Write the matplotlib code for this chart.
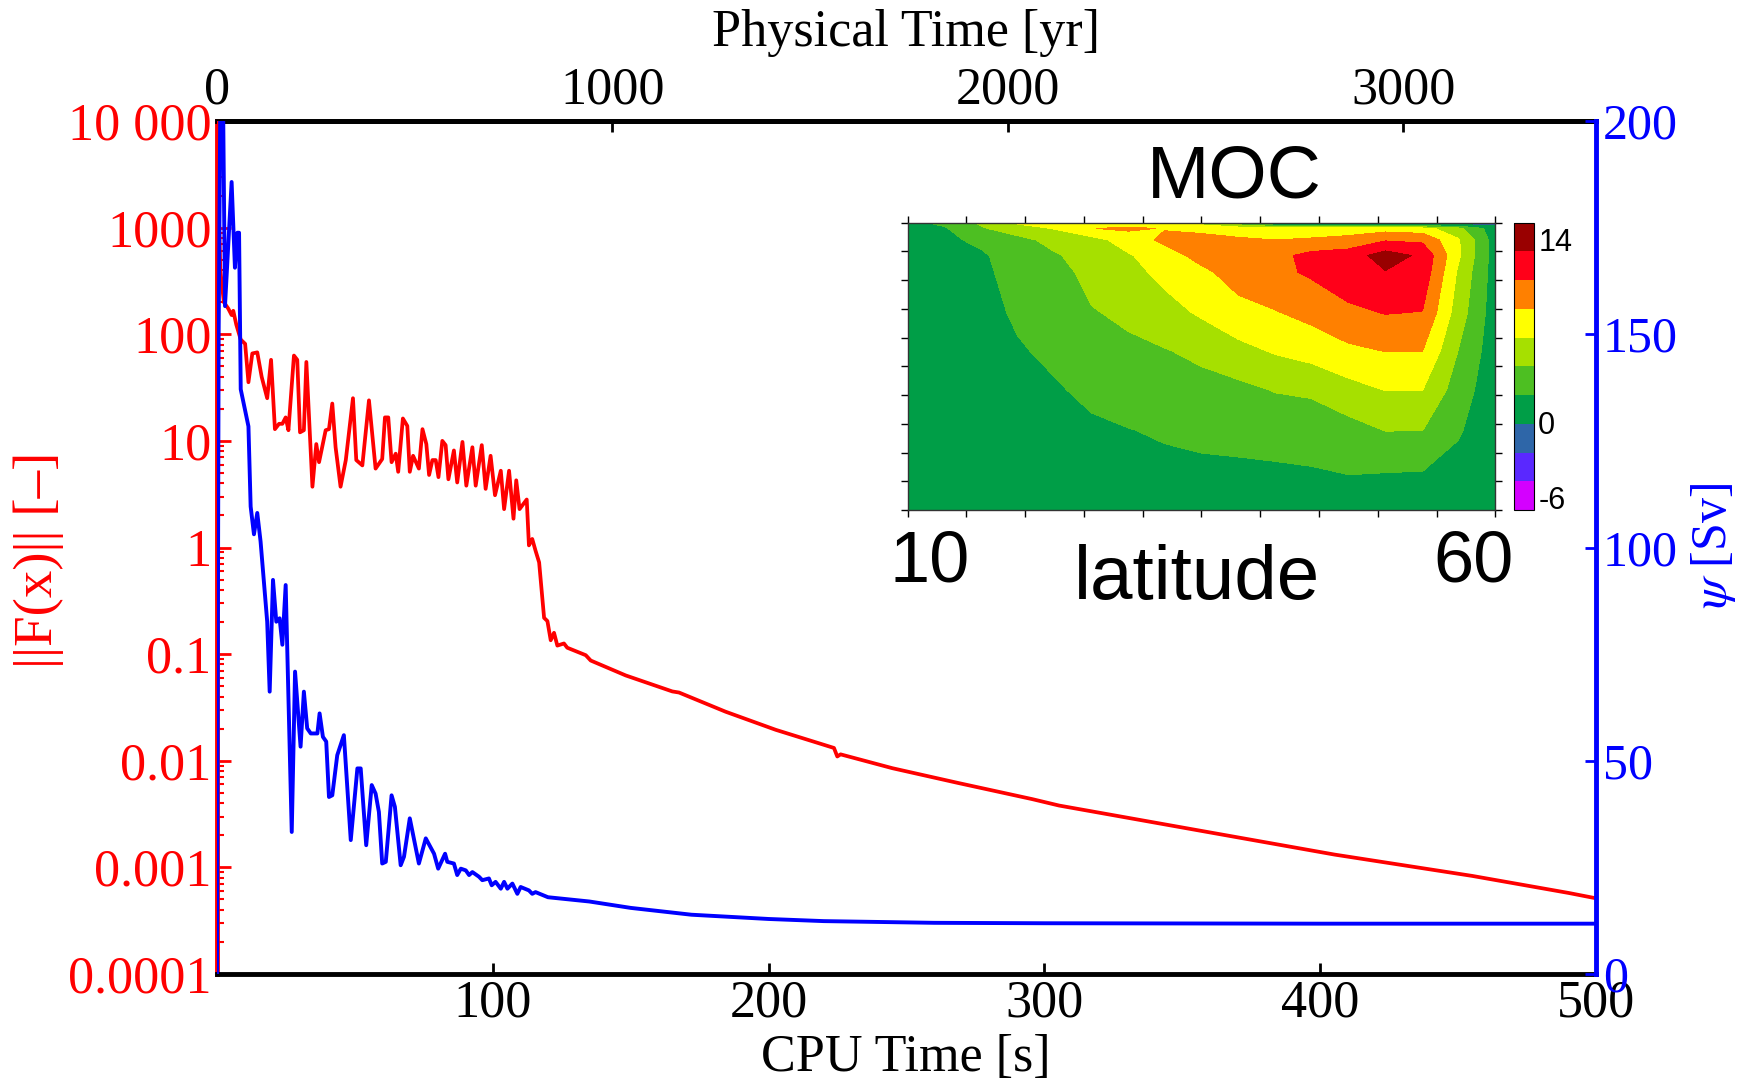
import numpy as np
import matplotlib
matplotlib.use("Agg")
import matplotlib.pyplot as plt
from matplotlib.ticker import LogLocator, NullFormatter

plt.rcParams['font.family'] = ['Liberation Serif', 'DejaVu Serif']
plt.rcParams['mathtext.fontset'] = 'stix'

# ---------------- data ----------------
# residual norm ||F(x)|| (log10 of value) vs CPU time [s]
red_t = [0, 0.5, 1.2, 2.5, 4.1, 5.3, 5.9, 7.0, 8.6, 10.2, 11.4, 12.8, 14.6, 16.2, 18.2, 19.6,
         21.0, 22.5, 23.7, 24.9, 25.9, 27.9, 29.1, 30.1, 31.5, 32.4, 34.6, 36.0, 37.0, 39.4,
         40.6, 41.8, 43.0, 44.8, 46.7, 49.3, 50.5, 52.7, 55.1, 57.5, 59.9, 60.9, 62.1, 63.3,
         64.8, 65.7, 67.4, 69.0, 69.9, 71.1, 73.2, 74.5, 75.9, 76.9, 78.1, 79.3, 80.3, 81.7,
         82.9, 83.9, 85.9, 87.1, 89.0, 90.4, 92.6, 93.8, 96.0, 97.4, 99.2, 100.8, 102.9, 104.1,
         105.9, 107.5, 108.5, 109.7, 112.3, 113.1, 114.3, 115.5, 116.8, 118.6, 119.8, 121.0,
         122.2, 123.4, 125.8, 127.0, 133.7, 135.5, 148.2, 165.1, 167.5, 184.4, 202.6, 223.7,
         224.9, 226.1, 244.9, 269.0, 295.6, 305.3, 355.2, 405.2, 455.1, 490.1, 500]
red_log10 = [4.0, 3.3, 2.6, 2.30, 2.24, 2.18, 2.22, 2.09, 1.95, 1.91, 1.55, 1.82, 1.83, 1.60, 1.40, 1.76,
             1.11, 1.16, 1.16, 1.22, 1.10, 1.80, 1.76, 1.08, 1.10, 1.74, 0.57, 0.97, 0.80, 1.10,
             1.11, 1.35, 0.94, 0.57, 0.82, 1.40, 0.82, 0.77, 1.38, 0.74, 0.83, 1.22, 1.22, 0.80,
             0.88, 0.71, 1.21, 1.14, 0.71, 0.86, 0.74, 1.11, 0.97, 0.68, 0.82, 0.82, 0.66, 1.00,
             0.96, 0.64, 0.91, 0.61, 0.99, 0.58, 0.94, 0.58, 0.96, 0.55, 0.86, 0.49, 0.72, 0.36,
             0.72, 0.27, 0.63, 0.36, 0.45, 0.02, 0.08, -0.03, -0.14, -0.66, -0.69, -0.87,
             -0.80, -0.92, -0.90, -0.94, -1.01, -1.06, -1.20, -1.35, -1.36, -1.54, -1.71, -1.88,
             -1.96, -1.94, -2.07, -2.21, -2.36, -2.42, -2.65, -2.88, -3.08, -3.24, -3.29]

# overturning strength psi [Sv] vs CPU time [s]
blue_t = [0, 0.6, 1.2, 2.2, 2.9, 5.3, 6.5, 7.4, 8.0, 8.6, 11.4, 12.2, 13.4, 14.6, 15.8, 18.2, 19.1,
          20.3, 21.5, 22.7, 23.7, 24.9, 27.1, 28.3, 30.3, 31.5, 32.7, 34.0, 36.4, 37.2, 38.4,
          39.6, 40.6, 41.8, 43.6, 46.0, 48.5, 50.9, 52.1, 54.1, 56.1, 57.5, 58.7, 59.9, 61.2,
          63.3, 64.5, 66.6, 67.8, 69.9, 73.2, 75.7, 78.7, 80.2, 82.7, 83.5, 85.9, 87.1, 88.4,
          90.2, 91.4, 92.6, 95.0, 96.2, 98.6, 99.6, 101.0, 102.9, 104.1, 105.3, 107.1, 108.9,
          110.1, 113.1, 114.3, 115.5, 120, 135, 150, 172, 200, 220, 260, 300, 400, 500]
blue_psi = [0, 150, 205, 205, 156.6, 185.7, 165.6, 173.8, 173.8, 137.1, 128.4, 109.6, 103.1, 108.1,
            101.4, 82.6, 66.2, 92.4, 82.6, 83.4, 77.2, 91.2, 33.3, 70.9, 53.3, 66.2, 57.6, 56.4,
            56.4, 61.1, 55.6, 54.5, 41.5, 41.9, 51.3, 56.0, 31.4, 48.2, 48.2, 30.2, 44.3, 42.3,
            38.0, 25.9, 26.3, 41.9, 39.2, 25.5, 27.5, 36.5, 25.9, 31.8, 28.2, 24.7, 28.2, 26.3,
            25.9, 23.2, 24.7, 24.3, 23.2, 23.9, 22.8, 22.0, 22.4, 20.8, 21.6, 20.0, 21.6, 20.0,
            21.2, 18.8, 20.4, 19.6, 18.8, 19.2, 18.0, 17.0, 15.5, 13.9, 12.9, 12.4, 12.0, 11.9,
            11.8, 11.8]

cpu_ticks = [100, 200, 300, 400, 500]
cpu_labels = ['100', '200', '300', '400', '500']
norm_ticks = [1e-4, 1e-3, 1e-2, 1e-1, 1, 10, 100, 1000, 1e4]
norm_labels = ['0.0001', '0.001', '0.01', '0.1', '1', '10', '100', '1000', '10 000']
psi_ticks = [0, 50, 100, 150, 200]
psi_labels = ['0', '50', '100', '150', '200']
year_ticks = [0, 1000, 2000, 3000]
year_labels = ['0', '1000', '2000', '3000']
years_at_500s = 3487.0

# MOC inset field (rows: depth, columns: latitude)
moc_lat = [8.0, 11.4, 14.8, 18.1, 21.5, 24.9, 28.3, 31.6, 35.0, 38.4, 41.8, 45.1, 48.5, 51.9,
           55.3, 58.6, 62.0]
moc_depth = [0.0, 0.1, 0.3, 0.57, 0.86, 1.56, 2.23, 2.91, 3.61, 4.31, 5.0]
moc_cols = [
    [1.5, 1.2, 1.0, 1.0, 1.0, 0.9, 0.8, 0.7, 0.6, 0.5, 0.4],
    [2.4, 1.8, 1.5, 1.3, 1.2, 1.0, 0.9, 0.8, 0.7, 0.6, 0.5],
    [4.3, 3.8, 2.5, 1.7, 1.5, 1.3, 1.1, 1.0, 0.8, 0.7, 0.5],
    [6.3, 5.0, 3.4, 3.1, 2.9, 2.3, 1.8, 1.4, 1.1, 0.9, 0.6],
    [7.0, 6.1, 4.6, 3.8, 3.4, 2.8, 2.4, 1.8, 1.4, 1.0, 0.7],
    [7.4, 7.95, 5.2, 4.8, 4.5, 3.9, 3.2, 2.4, 1.7, 1.3, 0.8],
    [7.0, 8.3, 7.0, 5.8, 5.3, 4.3, 3.7, 2.9, 1.95, 1.5, 0.9],
    [6.5, 7.9, 8.4, 7.2, 6.6, 5.2, 3.9, 3.1, 2.2, 1.6, 1.0],
    [5.0, 7.6, 8.5, 8.6, 7.6, 6.3, 4.4, 3.4, 2.4, 1.7, 1.0],
    [2.0, 7.3, 8.2, 9.0, 8.8, 7.4, 5.4, 3.5, 2.4, 1.8, 1.1],
    [-2.0, 7.1, 8.0, 9.4, 9.5, 7.9, 6.2, 4.1, 2.7, 1.8, 1.1],
    [-3.5, 7.0, 8.2, 10.6, 10.3, 8.6, 6.8, 4.3, 2.9, 1.9, 1.2],
    [-4.0, 7.0, 8.6, 11.0, 11.2, 9.6, 7.6, 5.3, 3.3, 2.1, 1.2],
    [-4.0, 7.2, 9.8, 12.9, 11.9, 10.1, 8.05, 6.05, 4.05, 2.05, 1.2],
    [-3.5, 6.8, 9.6, 11.6, 11.3, 9.95, 8.02, 6.02, 4.02, 2.02, 1.0],
    [-2.0, 4.5, 6.2, 6.3, 5.7, 5.0, 3.95, 3.0, 2.2, 1.4, 0.8],
    [-1.0, 0.8, 1.0, 1.0, 1.0, 0.9, 0.8, 0.7, 0.6, 0.5, 0.4],
]
moc_levels = [-6, -4, -2, 0, 2, 4, 6, 8, 10, 12, 14]
moc_colors = ['#D400FF', '#5A28FF', '#2E66A8', '#009E47', '#4DBF22', '#A6E000',
              '#FFFF00', '#FF8000', '#FF0019', '#990000']

# ---------------- figure ----------------
W, H = 1746, 1087
FS = 37.5
fig = plt.figure(figsize=(W / 100, H / 100), dpi=100)

L, R, T, B = 217, 1596, 121, 974
ax = fig.add_axes([L / W, 1 - B / H, (R - L) / W, (B - T) / H])
ax.plot(red_t, 10 ** np.array(red_log10), color='red', lw=2.7, zorder=3)
ax.set_xlim(0, 500)
ax.set_yscale('log')
ax.set_ylim(1e-4, 1e4)
ax.set_yticks(norm_ticks)
ax.set_yticklabels(norm_labels)
ax.yaxis.set_minor_locator(LogLocator(base=10, subs=range(2, 10), numticks=50))
ax.yaxis.set_minor_formatter(NullFormatter())
ax.tick_params(axis='y', which='major', direction='in', colors='red', length=10, width=2,
               labelsize=FS, pad=4)
ax.tick_params(axis='y', which='minor', direction='in', colors='red', length=5, width=1.5)
ax.set_xticks(cpu_ticks)
ax.set_xticklabels(cpu_labels)
ax.tick_params(axis='x', direction='in', length=8, width=2, labelsize=FS, pad=4, top=False)
ax.spines['left'].set_color('red')
ax.spines['left'].set_linewidth(3.5)
ax.spines['bottom'].set_linewidth(3.5)
ax.spines['top'].set_linewidth(3.5)
ax.spines['right'].set_visible(False)

ax2 = ax.twinx()
ax2.plot(blue_t, blue_psi, color='blue', lw=2.8, zorder=3)
ax2.set_ylim(0, 200)
ax2.set_xlim(0, 500)
ax2.set_yticks(psi_ticks)
ax2.set_yticklabels(psi_labels)
ax2.tick_params(axis='y', direction='in', colors='blue', length=8, width=2, labelsize=36, pad=5)
for s in ['left', 'top', 'bottom']:
    ax2.spines[s].set_visible(False)
ax2.spines['right'].set_color('blue')
ax2.spines['right'].set_linewidth(3.5)

f = lambda t: np.asarray(t) * years_at_500s / 500.0
finv = lambda y: np.asarray(y) * 500.0 / years_at_500s
secax = ax.secondary_xaxis('top', functions=(f, finv))
secax.set_xticks(year_ticks)
secax.set_xticklabels(year_labels)
secax.tick_params(direction='in', length=8, width=2, labelsize=FS, pad=5)
secax.spines['top'].set_linewidth(3.5)

fig.text(906 / W, 1 - 33 / H, 'Physical Time [yr]', ha='center', va='center', fontsize=FS)
fig.text(906 / W, 1 - 1058 / H, 'CPU Time [s]', ha='center', va='center', fontsize=FS)
fig.text(39 / W, 1 - 560 / H, '||F(x)|| [–]', ha='center', va='center', fontsize=FS + 2,
         color='red', rotation=90)
fig.text(1714 / W, 1 - 546 / H, r'$\psi$ [Sv]', ha='center', va='center', fontsize=36,
         color='blue', rotation=90)

# ---------------- inset ----------------
sans = ['Liberation Sans', 'DejaVu Sans']
iL, iR, iT, iB = 907.5, 1495.4, 222.7, 510.0
axin = fig.add_axes([iL / W, 1 - iB / H, (iR - iL) / W, (iB - iT) / H])
Z = np.array(moc_cols).T
cs = axin.contourf(moc_lat, moc_depth, Z, levels=moc_levels, colors=moc_colors)
axin.set_xlim(moc_lat[0], moc_lat[-1])
axin.set_ylim(moc_depth[-1], moc_depth[0])
axin.set_xticks([10, 60])
axin.set_xticklabels(['10', '60'], fontfamily=sans)
axin.set_xticks(np.linspace(moc_lat[0], moc_lat[-1], 11), minor=True)
axin.set_yticks(np.linspace(moc_depth[0], moc_depth[-1], 11))
axin.set_yticklabels([])
axin.tick_params(axis='x', which='major', length=0, labelsize=52, pad=14)
axin.tick_params(axis='x', which='minor', direction='out', length=5, width=1,
                 top=True, bottom=True)
axin.tick_params(axis='y', direction='out', length=5, width=1, left=True, right=True)
for s in axin.spines.values():
    s.set_linewidth(1)
    s.set_color('#333333')

cax = fig.add_axes([1514 / W, 1 - iB / H, 20 / W, (iB - iT) / H])
cb = fig.colorbar(cs, cax=cax)
cb.set_ticks([12.8, 0.1, -5.1])
cb.set_ticklabels(['14', '0', '-6'])
cb.ax.tick_params(length=0, labelsize=22, pad=3)
for lab in cb.ax.get_yticklabels():
    lab.set_fontfamily(sans)
cb.outline.set_linewidth(0.8)

fig.text(1234 / W, 1 - 178 / H, 'MOC', ha='center', va='center', fontsize=54, fontfamily=sans)
fig.text(1197 / W, 1 - 580 / H, 'latitude', ha='center', va='center', fontsize=55,
         fontfamily=sans)

fig.savefig('out.png', dpi=100)
